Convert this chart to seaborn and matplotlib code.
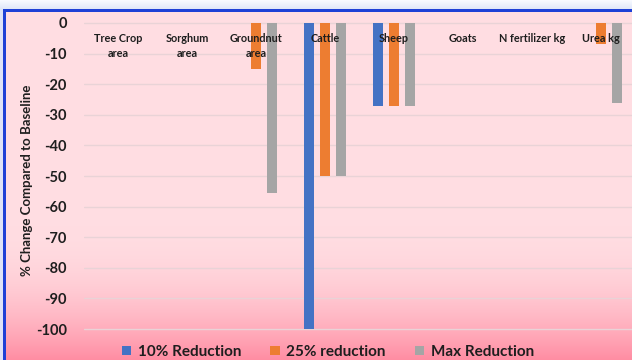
import numpy as np
import pandas as pd
import matplotlib
matplotlib.use("Agg")
import matplotlib.pyplot as plt
from matplotlib.patches import Patch
import seaborn as sns

categories = ["Tree Crop\narea", "Sorghum\narea", "Groundnut\narea", "Cattle",
              "Sheep", "Goats", "N fertilizer kg", "Urea kg"]
scenarios = ["10% Reduction", "25% reduction", "Max Reduction"]
reduction_10 = [0, 0, 0, -100, -27, 0, 0, 0]
reduction_25 = [0, 0, -15, -50, -27, 0, 0, -7]
reduction_max = [0, 0, -55.5, -50, -27, 0, 0, -26]
colors = ["#4472C4", "#ED7D31", "#A5A5A5"]
y_ticks = list(range(0, -101, -10))

df = pd.DataFrame({
    "category": categories * 3,
    "scenario": np.repeat(scenarios, len(categories)),
    "value": reduction_10 + reduction_25 + reduction_max,
})

sns.set_theme(style="white")
plt.rcParams["font.family"] = ["Lato", "DejaVu Sans"]

W, H = 632, 360
fig = plt.figure(figsize=(W / 100, H / 100), dpi=100)

# slide-style backdrop: lavender surround, blue frame, pink panel with gradient
bg = np.zeros((H, W, 3))
bg[:, :] = [0.87, 0.89, 0.97]
for y in range(11):
    t = y / 10
    bg[y, :] = (1 - t) * np.array([0.97, 0.98, 1.0]) + t * np.array([0.86, 0.89, 0.97])
pink_top = np.array([255, 221, 226]) / 255
pink_bot = np.array([255, 140, 162]) / 255
for y in range(11, H):
    t = max(0.0, (y - 225) / (H - 225))
    bg[y, 5:] = pink_top + (pink_bot - pink_top) * t ** 2
bg[9:12, 4:] = np.array([30, 64, 214]) / 255
bg[9:, 3:6] = np.array([30, 64, 214]) / 255
bax = fig.add_axes([0, 0, 1, 1], zorder=-5)
bax.imshow(bg, aspect="auto", extent=(0, W, H, 0))
bax.axis("off")

# plot axes: 0 at y=23px, -100 at y=329px, categories 69px apart
px_per_unit = (329 - 23) / 100
ytop, ybot = 1, -104
top_px = 23 - ytop * px_per_unit
bot_px = 23 - ybot * px_per_unit
left_px = 83.5
ax = fig.add_axes([left_px / W, 1 - bot_px / H, (W - left_px) / W, (bot_px - top_px) / H])
ax.patch.set_alpha(0)

sns.barplot(data=df, x="category", y="value", hue="scenario", palette=colors,
            width=0.70, gap=0.375, linewidth=0, saturation=1, ax=ax, legend=False)

ax.set_ylim(ybot, ytop)
ax.set_xlim(-0.5, -0.5 + (W - left_px) / 69)
ax.set_yticks(y_ticks)
ax.set_yticklabels([str(v) for v in y_ticks], fontsize=10.5, fontweight="bold", color="#1e1e1e")
ax.tick_params(axis="y", length=0, pad=12)
ax.set_xticks([])
ax.set_xlabel("")
ax.set_ylabel("% Change Compared to Baseline", fontsize=9.5, fontweight="bold",
              color="#1e1e1e", labelpad=2)
for s in ax.spines.values():
    s.set_visible(False)
for v in y_ticks:
    ax.axhline(v, color="#e9d3d7", lw=1, zorder=0)

# category names sit just under the zero line
for i, lab in enumerate(categories):
    ax.annotate(lab, xy=(i, 0), xytext=(0, -7.2), textcoords="offset points",
                ha="center", va="top", fontsize=7.8, fontweight="bold",
                color="#1e1e1e", linespacing=1.45, zorder=5)

handles = [Patch(facecolor=c, edgecolor="none") for c in colors]
fig.legend(handles, scenarios, loc="center", bbox_to_anchor=(328 / W, 1 - 352 / H),
           ncol=3, frameon=False, prop={"weight": "bold", "size": 11},
           handlelength=0.6, handleheight=0.6, handletextpad=0.45, columnspacing=1.9,
           labelcolor="#1e1e1e")

fig.savefig("out.png", dpi=100)
